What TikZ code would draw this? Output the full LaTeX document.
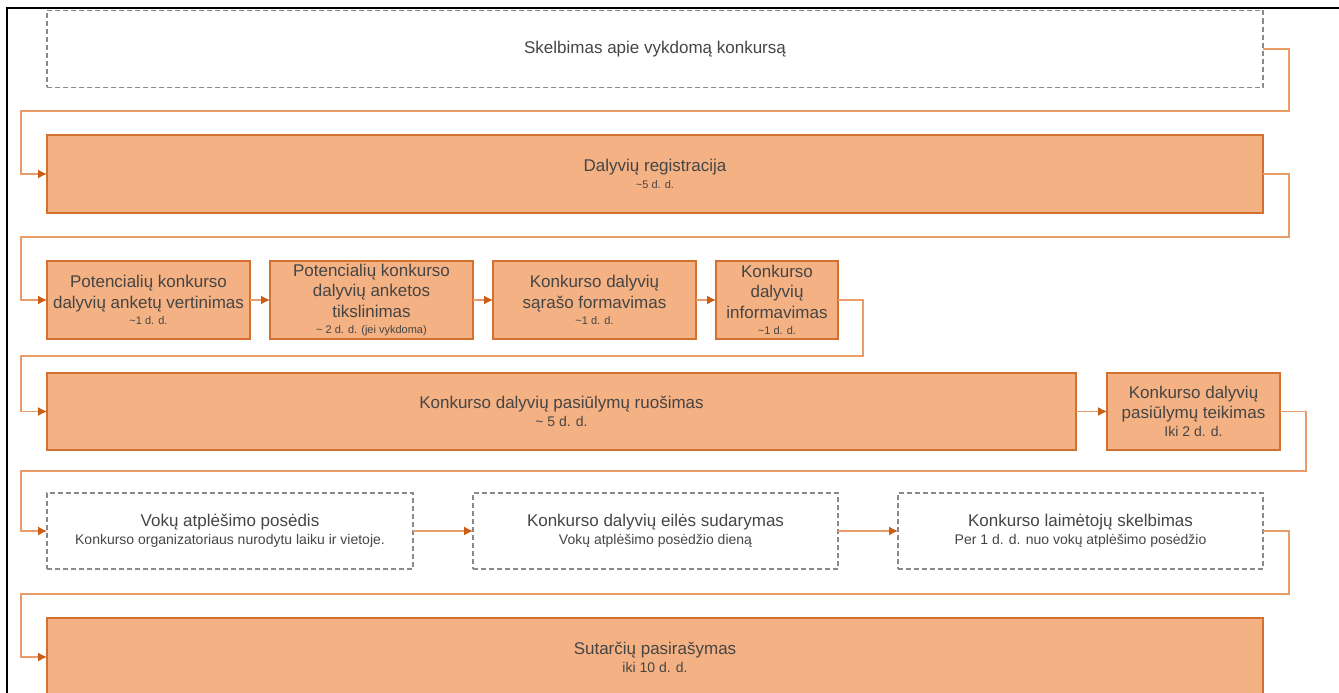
\documentclass[tikz,border=0pt]{standalone}
\usepackage{fontspec}
\setmainfont{Liberation Sans}
\usetikzlibrary{arrows.meta}

\definecolor{boxfill}{HTML}{F4B183}
\definecolor{boxline}{HTML}{D2712F}
\definecolor{lineorange}{HTML}{E99C68}
\definecolor{tiporange}{HTML}{C95F17}
\definecolor{dashgrey}{HTML}{8A8A8A}
\definecolor{txtgrey}{HTML}{454545}

\newcommand{\subtxt}{\fontsize{11}{13}\selectfont}
\newcommand{\midtxt}{\fontsize{14}{16}\selectfont}

\begin{document}
\begin{tikzpicture}[x=1pt,y=-1pt,>={Latex[length=9pt,width=9pt,color=tiporange]},font=\fontsize{17}{20.5}\selectfont,
        every node/.style={align=center,inner sep=0pt,outer sep=0pt,text=txtgrey},
        box/.style={draw=boxline,fill=boxfill,line width=1.4pt},
        dbox/.style={draw=dashgrey,dash pattern=on 5pt off 3pt,line width=1.1pt},
        link/.style={->,draw=lineorange,line width=1.2pt}]
        \useasboundingbox (0,0) rectangle (1339,693);
        \clip (0,0) rectangle (1339,693);

        \node [dbox, minimum width=1216pt, minimum height=77pt, anchor=north west] at (47,10.5) (S) {Skelbimas apie vykdomą konkursą};

        \node [box, minimum width=1216pt, minimum height=78pt, anchor=north west] at (47,135) (R) {Dalyvių registracija\\[-4pt]{\subtxt \textasciitilde5 d. d.}};

        \node [box, minimum width=203pt, minimum height=78pt, anchor=north west] at (47,261) (P1) {Potencialių konkurso\\dalyvių anketų vertinimas\\[-4pt]{\subtxt \textasciitilde1 d. d.}};
        \node [box, minimum width=203pt, minimum height=78pt, anchor=west, xshift=20pt] at (P1.east) (P2) {Potencialių konkurso\\dalyvių anketos\\tikslinimas\\[-4pt]{\subtxt \textasciitilde{} 2 d. d. (jei vykdoma)}};
        \node [box, minimum width=203pt, minimum height=78pt, anchor=west, xshift=20pt] at (P2.east) (P3) {Konkurso dalyvių\\sąrašo formavimas\\[-4pt]{\subtxt \textasciitilde1 d. d.}};
        \node [box, minimum width=122pt, minimum height=78pt, anchor=west, xshift=20pt] at (P3.east) (P4) {Konkurso\\dalyvių\\informavimas\\[-4pt]{\subtxt \textasciitilde1 d. d.}};

        \node [box, minimum width=1029pt, minimum height=77pt, anchor=north west] at (47,373) (K) {Konkurso dalyvių pasiūlymų ruošimas\\[-2.5pt]{\midtxt \textasciitilde{} 5 d. d.}};
        \node [box, minimum width=173pt, minimum height=77pt, anchor=west, xshift=31pt] at (K.east) (T) {Konkurso dalyvių\\pasiūlymų teikimas\\[-2.5pt]{\midtxt Iki 2 d. d.}};

        \node [dbox, minimum width=366pt, minimum height=76pt, anchor=north west] at (47,493) (V1) {Vokų atplėšimo posėdis\\[-2.5pt]{\midtxt Konkurso organizatoriaus nurodytu laiku ir vietoje.}};
        \node [dbox, minimum width=365pt, minimum height=76pt, anchor=west, xshift=60pt] at (V1.east) (V2) {Konkurso dalyvių eilės sudarymas\\[-2.5pt]{\midtxt Vokų atplėšimo posėdžio dieną}};
        \node [dbox, minimum width=365pt, minimum height=76pt, anchor=west, xshift=60pt] at (V2.east) (V3) {Konkurso laimėtojų skelbimas\\[-2.5pt]{\midtxt Per 1 d. d. nuo vokų atplėšimo posėdžio}};

        \node [box, minimum width=1216pt, minimum height=78pt, anchor=north west] at (47,618) (U) {Sutarčių pasirašymas\\[-2.5pt]{\midtxt iki 10 d. d.}};

        \draw [link] (S.east) -- ++(26,0) |- ([yshift=24pt]R.north) -| ([xshift=-26pt]R.west) -- (R.west);
        \draw [link] (R.east) -- ++(26,0) |- ([yshift=24pt]P1.north) -| ([xshift=-26pt]P1.west) -- (P1.west);
        \draw [link] (P1) -- (P2);
        \draw [link] (P2) -- (P3);
        \draw [link] (P3) -- (P4);
        \draw [link] (P4.east) -- ++(25,0) |- ([yshift=17pt]K.north) -| ([xshift=-26pt]K.west) -- (K.west);
        \draw [link] (K) -- (T);
        \draw [link] (T.east) -- ++(26,0) |- ([yshift=22pt]V1.north) -| ([xshift=-26pt]V1.west) -- (V1.west);
        \draw [link] (V1) -- (V2);
        \draw [link] (V2) -- (V3);
        \draw [link] (V3.east) -- ++(26,0) |- ([yshift=24pt]U.north) -| ([xshift=-26pt]U.west) -- (U.west);

        \draw [line width=2pt] (7,693) -- (7,8.5) -- (1339,8.5);

\end{tikzpicture}
\end{document}
